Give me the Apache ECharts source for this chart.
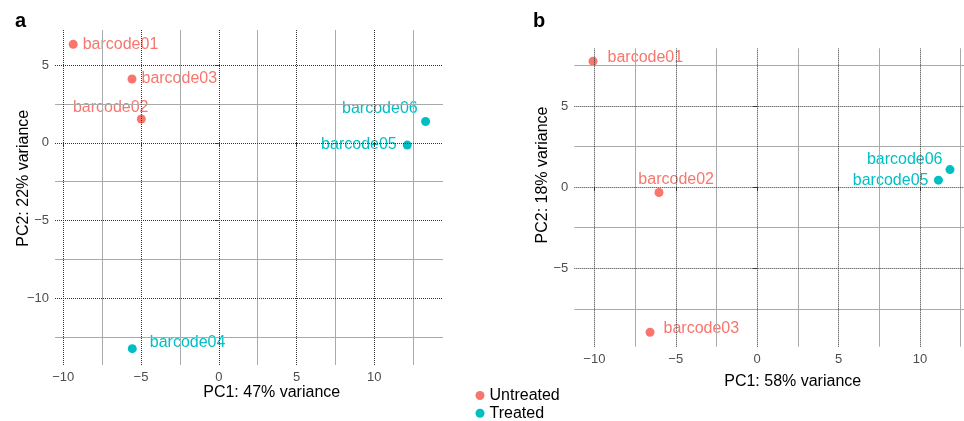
<!DOCTYPE html>
<html>
<head>
<meta charset="utf-8">
<script src="https://cdn.jsdelivr.net/npm/echarts@6/dist/echarts.min.js"></script>
<style>
  html, body { margin: 0; padding: 0; background: #fff; }
  #main { width: 964px; height: 421px; }
</style>
</head>
<body>
<div id="main"></div>
<script>
// panel a
const samplesA = ['barcode01', 'barcode02', 'barcode03', 'barcode04', 'barcode05', 'barcode06'];
const groupsA = ['Untreated', 'Untreated', 'Untreated', 'Treated', 'Treated', 'Treated'];
const pc1A = [-9.36, -4.98, -5.58, -5.56, 12.12, 13.3];
const pc2A = [6.33, 1.53, 4.1, -13.24, -0.15, 1.37];

// panel b
const samplesB = ['barcode01', 'barcode02', 'barcode03', 'barcode05', 'barcode06'];
const groupsB = ['Untreated', 'Untreated', 'Untreated', 'Treated', 'Treated'];
const pc1B = [-10.08, -6.03, -6.58, 11.13, 11.84];
const pc2B = [7.75, -0.33, -8.94, 0.43, 1.08];

// axis limits & ticks
const xLimA = [-10.53, 14.42];
const yLimA = [-14.29, 7.25];
const xLimB = [-11.23, 12.7];
const yLimB = [-9.83, 8.55];
const xTicks = [-10, -5, 0, 5, 10];
const xMinor = [-7.5, -2.5, 2.5, 7.5, 12.5];
const yTicksA = [-10, -5, 0, 5];
const yMinorA = [-12.5, -7.5, -2.5, 2.5];
const yTicksB = [-5, 0, 5];
const yMinorB = [-7.5, -2.5, 2.5, 7.5];

const groups = ['Untreated', 'Treated'];
const colors = {Untreated: '#F8766D', Treated: '#00BFC4'};
const FONT = '"Liberation Sans", Arial, sans-serif';

// where each point label sits
const labelPosA = {
    barcode01: {position: 'right', distance: 5},
    barcode02: {position: 'inside', offset: [-30.6, -11.7]},
    barcode03: {position: 'right', distance: 5},
    barcode04: {position: 'right', distance: 13, offset: [0, -6]},
    barcode05: {position: 'left', distance: 6},
    barcode06: {position: 'inside', offset: [-45.7, -13]}
};
const labelPosB = {
    barcode01: {position: 'right', distance: 10, offset: [0, -4]},
    barcode02: {position: 'inside', offset: [17.2, -12.7]},
    barcode03: {position: 'right', distance: 9, offset: [0, -4]},
    barcode05: {position: 'left', distance: 5.5},
    barcode06: {position: 'inside', offset: [-45.3, -10.4]}
};

const minus = v => v < 0 ? '\u2212' + Math.abs(v) : '' + v;

function makeX(idx, lim) {
    return {
        type: 'value', gridIndex: idx, min: lim[0], max: lim[1],
        axisLine: {show: false},
        axisTick: {show: true, length: 4, customValues: xTicks, lineStyle: {color: '#333'}},
        axisLabel: {customValues: xTicks, formatter: minus, color: '#4d4d4d', fontSize: 13, fontFamily: FONT, margin: 6},
        splitLine: {show: false}
    };
}
function makeY(idx, lim, ticks) {
    return {
        type: 'value', gridIndex: idx, min: lim[0], max: lim[1],
        axisLine: {show: false},
        axisTick: {show: true, length: 4, customValues: ticks, lineStyle: {color: '#333'}},
        axisLabel: {customValues: ticks, formatter: minus, color: '#4d4d4d', fontSize: 13, fontFamily: FONT, margin: 6},
        splitLine: {show: false}
    };
}

// grid lines drawn as mark lines from the tick arrays
function gridLines(idx, xs, xm, ys, ym) {
    const major = {type: 'dotted', color: '#333', width: 1};
    const minor = {type: 'solid', color: '#aaa', width: 1};
    const data = [];
    xm.forEach(v => data.push({xAxis: v, lineStyle: minor}));
    ym.forEach(v => data.push({yAxis: v, lineStyle: minor}));
    xs.forEach(v => data.push({xAxis: v, lineStyle: major}));
    ys.forEach(v => data.push({yAxis: v, lineStyle: major}));
    return {
        type: 'line', xAxisIndex: idx, yAxisIndex: idx, data: [], z: 1, silent: true,
        markLine: {silent: true, symbol: ['none', 'none'], label: {show: false}, animation: false, data: data}
    };
}

function pointSeries(idx, grp, samples, groupsArr, xs, ys, posMap) {
    const data = [];
    samples.forEach((s, i) => {
        if (groupsArr[i] !== grp) return;
        data.push({name: s, value: [xs[i], ys[i]], label: posMap[s]});
    });
    return {
        type: 'scatter', name: grp, xAxisIndex: idx, yAxisIndex: idx, z: 3,
        symbolSize: 9, itemStyle: {color: colors[grp], opacity: 1},
        label: {show: true, formatter: '{b}', color: colors[grp], fontSize: 16, fontFamily: FONT},
        emphasis: {disabled: true},
        data: data
    };
}

const series = [
    gridLines(0, xTicks, xMinor, yTicksA, yMinorA),
    gridLines(1, xTicks, xMinor, yTicksB, yMinorB)
];
groups.forEach(g => {
    series.push(pointSeries(0, g, samplesA, groupsA, pc1A, pc2A, labelPosA));
    series.push(pointSeries(1, g, samplesB, groupsB, pc1B, pc2B, labelPosB));
});

// one legend box per group so they stack
const legends = groups.map((g, i) => ({
    data: [g], left: 475.5, top: 387.5 + i * 17.7, padding: 0,
    icon: 'circle', itemWidth: 9, itemHeight: 9,
    textStyle: {fontSize: 16, color: '#000', fontFamily: FONT, lineHeight: 15}
}));

const titleStyle = {fontSize: 16, fill: '#000', fontFamily: FONT};

const option = {
    backgroundColor: '#fff',
    animation: false,
    grid: [
        {left: 55, top: 30, width: 388, height: 335},
        {left: 574.3, top: 48.3, width: 389.7, height: 298.4}
    ],
    xAxis: [makeX(0, xLimA), makeX(1, xLimB)],
    yAxis: [makeY(0, yLimA, yTicksA), makeY(1, yLimB, yTicksB)],
    legend: legends,
    graphic: [
        {type: 'text', left: 15, top: 11, style: {text: 'a', fontSize: 20, fontWeight: 'bold', fill: '#000', fontFamily: FONT}},
        {type: 'text', left: 533, top: 11, style: {text: 'b', fontSize: 20, fontWeight: 'bold', fill: '#000', fontFamily: FONT}},
        {type: 'text', x: 271.7, y: 393, style: Object.assign({text: 'PC1: 47% variance', align: 'center', verticalAlign: 'middle'}, titleStyle)},
        {type: 'text', x: 792.7, y: 381.7, style: Object.assign({text: 'PC1: 58% variance', align: 'center', verticalAlign: 'middle'}, titleStyle)},
        {type: 'text', x: 24, y: 178.3, rotation: Math.PI / 2, style: Object.assign({text: 'PC2: 22% variance', align: 'center', verticalAlign: 'middle'}, titleStyle)},
        {type: 'text', x: 542.5, y: 175, rotation: Math.PI / 2, style: Object.assign({text: 'PC2: 18% variance', align: 'center', verticalAlign: 'middle'}, titleStyle)}
    ],
    series: series
};

const myChart = echarts.init(document.getElementById('main'));
myChart.setOption(option);
</script>
</body>
</html>
